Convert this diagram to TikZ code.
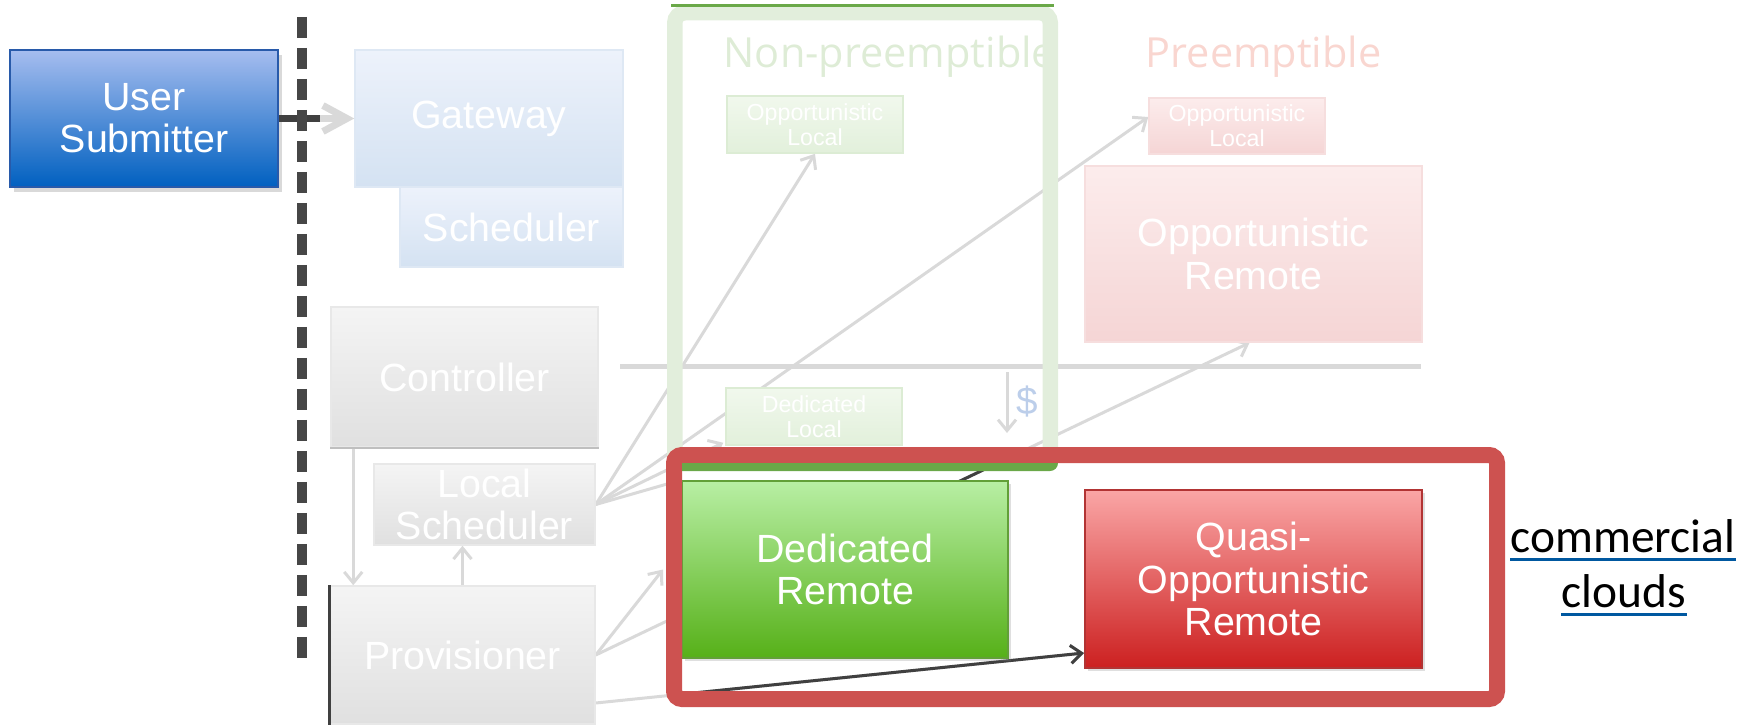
\documentclass[tikz,border=0pt]{standalone}
\usepackage{fontspec}
\setmainfont{Liberation Sans}
\newfontfamily\headfont{Open Sans}
\newfontfamily\notefont{Carlito}
\usepackage{xcolor}
\usetikzlibrary{arrows.meta, positioning, shadows, backgrounds}

\definecolor{usrTop}{RGB}{166,189,239}
\definecolor{usrBot}{RGB}{0,96,192}
\definecolor{usrLine}{RGB}{40,90,170}
\definecolor{gwTop}{RGB}{237,242,251}
\definecolor{gwBot}{RGB}{212,226,242}
\definecolor{gwLine}{RGB}{222,232,244}
\definecolor{grTop}{RGB}{244,244,244}
\definecolor{grBot}{RGB}{224,224,224}
\definecolor{grLine}{RGB}{232,232,232}
\definecolor{lgTop}{RGB}{241,248,237}
\definecolor{lgBot}{RGB}{226,240,219}
\definecolor{lgLine}{RGB}{220,236,212}
\definecolor{lrTop}{RGB}{252,236,236}
\definecolor{lrBot}{RGB}{245,213,213}
\definecolor{lrLine}{RGB}{246,222,222}
\definecolor{dgTop}{RGB}{184,239,164}
\definecolor{dgBot}{RGB}{86,176,24}
\definecolor{dgLine}{RGB}{98,160,56}
\definecolor{qrTop}{RGB}{250,166,166}
\definecolor{qrBot}{RGB}{204,32,32}
\definecolor{qrLine}{RGB}{178,52,52}
\definecolor{frGreen}{RGB}{226,238,220}
\definecolor{frDark}{RGB}{106,168,72}
\definecolor{frRed}{RGB}{205,82,80}
\definecolor{linkLight}{RGB}{217,217,217}
\definecolor{linkDark}{RGB}{64,64,64}
\definecolor{sepGray}{RGB}{70,70,70}
\definecolor{npText}{RGB}{222,236,214}
\definecolor{pText}{RGB}{249,214,208}
\definecolor{costBlue}{RGB}{188,206,234}
\definecolor{noteBlue}{RGB}{0,88,160}

\begin{document}
\begin{tikzpicture}[x=0.1mm, y=-0.1mm,
    big box/.style={rectangle, inner sep=0pt, align=center, text=white, line width=0.15mm, font=\fontsize{11.2}{12}\selectfont},
    small box/.style={big box, font=\fontsize{6.6}{7}\selectfont},
    user box/.style={big box, top color=usrTop, bottom color=usrBot, draw=usrLine, line width=0.2mm, drop shadow={shadow xshift=0.4mm, shadow yshift=-0.5mm, opacity=0.3}},
    gate box/.style={big box, top color=gwTop, bottom color=gwBot, draw=gwLine},
    gray box/.style={big box, top color=grTop, bottom color=grBot, draw=grLine},
    lgreen box/.style={small box, top color=lgTop, bottom color=lgBot, draw=lgLine},
    lred box/.style={small box, top color=lrTop, bottom color=lrBot, draw=lrLine},
    lred big box/.style={big box, top color=lrTop, bottom color=lrBot, draw=lrLine},
    green box/.style={big box, top color=dgTop, bottom color=dgBot, draw=dgLine, line width=0.2mm, drop shadow={shadow xshift=0.3mm, shadow yshift=-0.3mm, opacity=0.25}},
    red box/.style={big box, top color=qrTop, bottom color=qrBot, draw=qrLine, line width=0.2mm, drop shadow={shadow xshift=0.3mm, shadow yshift=-0.3mm, opacity=0.25}},
    head/.style={inner sep=0pt, font=\headfont\fontsize{11.8}{14}\selectfont},
    note/.style={inner sep=0pt, font=\notefont\fontsize{13.5}{16}\selectfont},
    link/.style={draw=linkLight, line width=0.3mm, -{Straight Barb[length=1.1mm, width=1.8mm]}},
    hot link/.style={link, draw=linkDark}
]
    \useasboundingbox (0,0) rectangle (1754,724);

    % Left side
    \node[user box, minimum width=26.8mm, minimum height=13.7mm] (usr) at (144,118.5) {User\\Submitter};
    \node[gate box, minimum width=26.8mm, minimum height=13.7mm] (gw) at (489,118.5) {Gateway};
    \node[gate box, minimum width=22.3mm, minimum height=8mm] (sch) at (511.5,227) {Scheduler};
    \node[gray box, minimum width=26.7mm, minimum height=14mm] (ctl) at (464.5,377) {Controller};
    \node[gray box, minimum width=22.1mm, minimum height=8.1mm] (lsch) at (484.5,504.5) {Local\\Scheduler};
    \node[gray box, minimum width=26.5mm, minimum height=13.8mm] (prov) at (462.5,655) {Provisioner};

    % Column titles
    \node[head, text=npText, anchor=base west] (np) at (723,68) {Non-preemptible};
    \node[head, text=pText, anchor=base west] (pe) at (1145,68) {Preemptible};

    % Resource boxes
    \node[lgreen box, minimum width=17.6mm, minimum height=5.7mm] (oplg) at (815,124.5) {Opportunistic\\Local};
    \node[lgreen box, minimum width=17.6mm, minimum height=5.7mm] (dloc) at (814,416.5) {Dedicated\\Local};
    \node[lred box, minimum width=17.6mm, minimum height=5.6mm] (oplr) at (1237,126) {Opportunistic\\Local};
    \node[lred big box, minimum width=33.7mm, minimum height=17.6mm] (oprm) at (1253.5,254) {Opportunistic\\Remote};
    \node[green box, minimum width=32.6mm, minimum height=17.7mm] (drem) at (845,569.5) {Dedicated\\Remote};
    \node[red box, minimum width=33.7mm, minimum height=17.8mm] (qrem) at (1253.5,579) {Quasi-\\Opportunistic\\Remote};

    \node[text=costBlue, inner sep=0pt, font=\fontsize{11}{12}\selectfont] (cost) at (1027,402) {\$};

    \node[note, anchor=base] (cm1) at (1623,552) {commercial};
    \node[note, anchor=base] (cm2) at (1624,607) {clouds};
    \draw[noteBlue, line width=0.25mm] ([yshift=-0.75mm]cm1.base west) -- ([yshift=-0.75mm]cm1.base east);
    \draw[noteBlue, line width=0.25mm] ([yshift=-0.75mm]cm2.base west) -- ([yshift=-0.75mm]cm2.base east);

    % Helper points
    \coordinate (cut) at (320,118.5);
    \coordinate (sepA) at (302,17);
    \coordinate (sepB) at (302,660);
    \coordinate (hA) at (620,366);
    \coordinate (hB) at (1421,366);
    \coordinate (dA) at (1007,372);
    \coordinate (dB) at (1007,433);

    \begin{scope}[on background layer]
        \draw[linkLight, line width=0.5mm] (hA) -- (hB);
        \draw[link] (dA) -- (dB);
        \draw[link] (ctl.south west) ++(23,0) coordinate (cp) -- (cp |- prov.north);
        \draw[link] (prov.north) -- (prov.north |- lsch.south);
        \draw[link] (lsch.east) -- (oplg.south);
        \draw[link] (lsch.east) -- ([yshift=0.9mm]oplr.west);
        \draw[link] (lsch.east) -- ([xshift=-0.2mm, yshift=0.3mm]dloc.south west);
        \draw[link, -] (lsch.east) -- (drem.north west);
        \draw[link] (prov.east) -- ([xshift=-1.8mm]drem.west);
        \draw[link] (prov.east) -- ([xshift=-0.4mm]oprm.south);
        \draw[link] ([yshift=-4.8mm]prov.east) -- ([yshift=-7.4mm]qrem.west);
        % inside the highlight
        \begin{scope}
            \clip (682,463) rectangle (1489,691);
            \draw[hot link] (prov.east) -- ([xshift=-0.4mm]oprm.south);
            \draw[hot link] ([yshift=-4.8mm]prov.east) -- ([yshift=-7.4mm]qrem.west);
        \end{scope}
    \end{scope}

    % User arrow and separator
    \draw[link, line width=0.7mm, -{Straight Barb[length=2.4mm, width=2.6mm]}] (usr) -- (gw);
    \draw[linkDark, line width=0.7mm] (usr.east) -- (cut);
    \draw[sepGray, line width=1mm, dash pattern=on 2.1mm off 1mm] (sepA) -- (sepB);
    \draw[linkDark, line width=0.3mm] (prov.north west) -- (prov.south west);
    \draw[black!25, line width=0.2mm] (ctl.south west) -- (ctl.south east);

    % Non-preemptible frame
    \draw[frGreen, line width=1.55mm, rounded corners=1mm] (674.75,12.75) rectangle (1050.25,463);
    \draw[frDark, line width=0.3mm] (671,6) -- (1054,6);

    % Commercial clouds frame
    \draw[frRed, line width=1.6mm, rounded corners=0.8mm] (674,455) rectangle (1497,699);
    \fill[frDark] (682,463) -- (1058,463) [rounded corners=0.8mm] -- (1058,471) [sharp corners] -- (682,471) -- cycle;
\end{tikzpicture}
\end{document}
